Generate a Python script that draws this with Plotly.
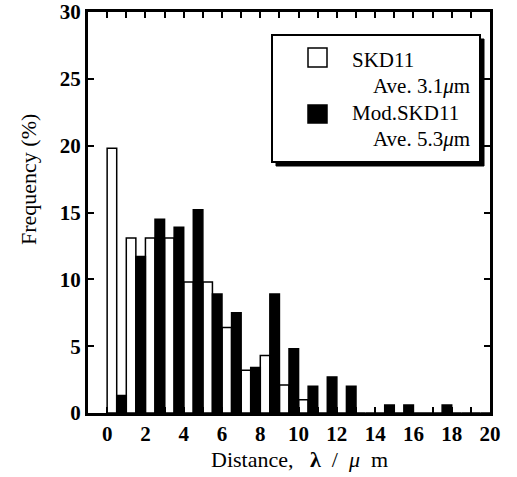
import plotly.graph_objects as go

# ---- data ----
bins = list(range(20))  # bin start, width 1 µm
skd11 = [19.8, 13.1, 13.1, 13.1, 9.8, 9.8, 6.4, 3.2, 4.3, 2.1, 1.0, 0, 0, 0, 0, 0, 0, 0, 0, 0]
mod_skd11 = [1.3, 11.7, 14.5, 13.9, 15.2, 8.9, 7.5, 3.4, 8.9, 4.8, 2.0, 2.7, 2.0, 0, 0.6, 0.6, 0, 0.6, 0, 0]
x_ticks = list(range(0, 21, 2))
y_ticks = list(range(0, 31, 5))
legend_names = ["SKD11", "Mod.SKD11"]
legend_aves = ["Ave. 3.1<i>μ</i>m", "Ave. 5.3<i>μ</i>m"]
x_title = "Distance,\u00a0\u00a0\u00a0<b>λ</b>\u00a0\u00a0/\u00a0\u00a0<i>μ</i>\u00a0\u00a0m"
y_title = "Frequency (%)"

FONT = "Liberation Serif"
W, H = 517, 477
ML, MR, MT, MB = 88, 27, 12, 64
PW, PH = W - ML - MR, H - MT - MB


def px(x):
    return (x - ML) / PW


def py(y):
    return (H - MB - y) / PH


fig = go.Figure()
fig.add_bar(x=bins, y=skd11, offset=0, width=0.5, name=legend_names[0],
            marker=dict(color="white", line=dict(color="black", width=1.5)))
fig.add_bar(x=bins, y=mod_skd11, offset=0.5, width=0.5, name=legend_names[1],
            marker=dict(color="black", line=dict(color="black", width=1.5)))

axis_common = dict(showline=True, linecolor="black", linewidth=3, mirror="ticks",
                   ticks="inside", ticklen=6, tickwidth=2, tickcolor="black",
                   showgrid=False, zeroline=False, automargin=False,
                   tickfont=dict(family=FONT, size=21, color="black", weight="bold"))

fig.update_xaxes(range=[-1, 20], tickvals=x_ticks,
                 minor=dict(dtick=1, tick0=0, ticks="inside", ticklen=6, tickwidth=2, tickcolor="black"),
                 **axis_common)
fig.update_yaxes(range=[0, 30], tickvals=y_ticks, **axis_common)

# ---- legend box (custom, with shadow) ----
shapes = [
    dict(type="rect", xref="paper", yref="paper", x0=px(276), x1=px(484), y0=py(166), y1=py(39),
         fillcolor="black", line=dict(color="black", width=1)),
    dict(type="rect", xref="paper", yref="paper", x0=px(272), x1=px(480), y0=py(162), y1=py(35),
         fillcolor="white", line=dict(color="black", width=2)),
    dict(type="rect", xref="paper", yref="paper", x0=px(308), x1=px(327), y0=py(67), y1=py(48),
         fillcolor="white", line=dict(color="black", width=1.5)),
    dict(type="rect", xref="paper", yref="paper", x0=px(308), x1=px(327), y0=py(123), y1=py(105),
         fillcolor="black", line=dict(color="black", width=1.5)),
]
annots = [
    dict(text=legend_names[0], x=px(350), y=py(60), xanchor="left", size=21),
    dict(text=legend_aves[0], x=px(472), y=py(86), xanchor="right", size=21),
    dict(text=legend_names[1], x=px(350), y=py(113), xanchor="left", size=21),
    dict(text=legend_aves[1], x=px(472), y=py(139), xanchor="right", size=21),
    dict(text=x_title, x=px(299), y=py(460), xanchor="center", size=22),
    dict(text=y_title, x=px(28), y=py(180), xanchor="center", textangle=-90, size=22),
]
for a in annots:
    size = a.pop("size")
    a.update(xref="paper", yref="paper", yanchor="middle", showarrow=False,
             font=dict(family=FONT, size=size, color="black"))

fig.update_layout(width=W, height=H, margin=dict(l=ML, r=MR, t=MT, b=MB),
                  paper_bgcolor="white", plot_bgcolor="white", barmode="overlay",
                  showlegend=False, shapes=shapes, annotations=annots,
                  font=dict(family=FONT, color="black"))

fig.write_html("out.html")
